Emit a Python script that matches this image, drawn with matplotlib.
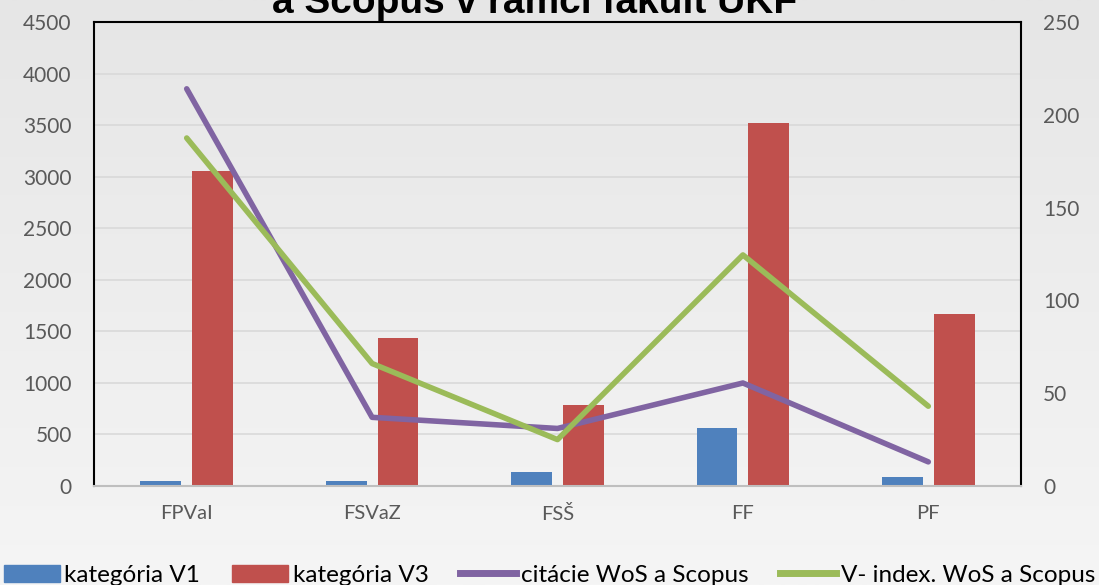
import numpy as np
import matplotlib
matplotlib.use("Agg")
import matplotlib.pyplot as plt
from matplotlib.patches import Patch
from matplotlib.lines import Line2D

plt.rcParams['font.family'] = ['Lato', 'DejaVu Sans']

# data
fakulty = ["FPVaI", "FSVaZ", "FSŠ", "FF", "PF"]
kat_v1 = [50, 50, 140, 560, 85]
kat_v3 = [3055, 1435, 786, 3521, 1668]
citacie = [214, 37, 31, 55.5, 13]
v_index = [187.5, 66, 25, 124.5, 43]

blue = "#4f81bd"
red = "#c0504d"
purple = "#8064a2"
green = "#9bbb59"

fig = plt.figure(figsize=(10.99, 5.85), dpi=100)

# light gray gradient background
bg = fig.add_axes([0, 0, 1, 1], zorder=-10)
grad = np.linspace(0, 1, 256).reshape(-1, 1)
bg.imshow(grad, aspect="auto", cmap=matplotlib.colors.LinearSegmentedColormap.from_list(
    "bg", ["#e6e6e6", "#f5f5f5"]), extent=[0, 1, 0, 1], origin="upper")
bg.axis("off")

ax = fig.add_axes([94 / 1099, 1 - 486 / 585, 927 / 1099, 464 / 585])
ax.set_facecolor("none")
x = np.arange(len(fakulty))
w = 0.22
off = 0.14
ax.bar(x - off, kat_v1, w, color=blue, zorder=2)
ax.bar(x + off, kat_v3, w, color=red, zorder=2)
ax.set_xlim(-0.5, len(fakulty) - 0.5)
ax.set_ylim(0, 4500)
ax.set_yticks(range(0, 4501, 500))
ax.grid(axis="y", color="#d9d9d9", linewidth=1.2, zorder=0)
ax.set_axisbelow(True)
ax.set_xticks(x)
ax.set_xticklabels(fakulty)
ax.tick_params(length=0, labelsize=15, colors="#595959")
ax.tick_params(axis="x", pad=14, labelsize=14.5)
ax.tick_params(axis="y", pad=16)
for s in ["left", "top", "right"]:
    ax.spines[s].set_color("black")
    ax.spines[s].set_linewidth(1.5)
ax.spines["bottom"].set_color("#bfbfbf")
ax.spines["bottom"].set_linewidth(1.5)

ax2 = ax.twinx()
ax2.plot(x, citacie, color=purple, linewidth=4, solid_capstyle="round", zorder=3)
ax2.plot(x, v_index, color=green, linewidth=4, solid_capstyle="round", zorder=3)
ax2.set_ylim(0, 250)
ax2.set_yticks(range(0, 251, 50))
ax2.tick_params(length=0, labelsize=15, colors="#595959", pad=16)
for s in ax2.spines.values():
    s.set_visible(False)

fig.text(535 / 1099, 1 - 13 / 585, "a Scopus v rámci fakúlt UKF", ha="center",
         va="baseline", fontsize=28, fontweight="bold", family="Liberation Sans")

handles = [
    Patch(color=blue, label="kategória V1"),
    Patch(color=red, label="kategória V3"),
    Line2D([], [], color=purple, linewidth=5, label="citácie WoS a Scopus"),
    Line2D([], [], color=green, linewidth=5, label="V- index. WoS a Scopus"),
]
fig.legend(handles=handles, loc="lower center", bbox_to_anchor=(0.5, -0.035), ncol=4,
           frameon=False, fontsize=17.5, handlelength=2.3, handletextpad=0.2,
           columnspacing=1.3, handleheight=0.75, borderpad=0.3)

fig.savefig("out.png", dpi=100)
